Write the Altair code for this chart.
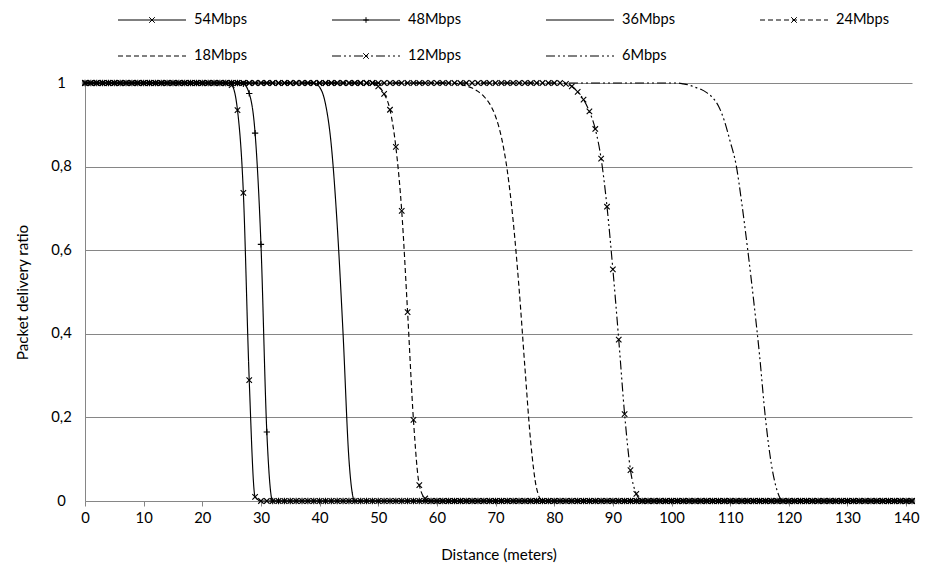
import altair as alt
import pandas as pd

# ---------------- data ----------------
distance = list(range(142))  # metres, one sample per metre
series_names = ["54Mbps", "48Mbps", "36Mbps", "24Mbps", "18Mbps", "12Mbps", "6Mbps"]

pdr_54 = [1.0] * 25 + [0.995, 0.935, 0.737, 0.289, 0.01] + [0.0] * 112
pdr_48 = [1.0] * 27 + [0.998, 0.975, 0.88, 0.614, 0.165] + [0.0] * 110
pdr_36 = [1.0] * 40 + [0.99, 0.95, 0.85, 0.66, 0.40, 0.10] + [0.0] * 96
pdr_24 = [1.0] * 50 + [0.992, 0.974, 0.936, 0.847, 0.694, 0.452, 0.194, 0.038, 0.006] + [0.0] * 83
pdr_18 = [1.0] * 64 + [0.997, 0.993, 0.988, 0.98, 0.968, 0.95, 0.92, 0.87, 0.79,
                       0.67, 0.51, 0.32, 0.14, 0.03] + [0.0] * 64
pdr_12 = [1.0] * 82 + [0.998, 0.992, 0.979, 0.96, 0.932, 0.89, 0.819, 0.704, 0.554,
                       0.386, 0.208, 0.074, 0.017] + [0.0] * 47
pdr_6 = [1.0] * 102 + [0.998, 0.995, 0.99, 0.985, 0.977, 0.965, 0.945, 0.91, 0.86, 0.805,
                       0.71, 0.6, 0.48, 0.35, 0.2, 0.09, 0.025] + [0.0] * 23

x_ticks = list(range(0, 141, 10))
y_ticks = [0, 0.2, 0.4, 0.6, 0.8, 1.0]

all_series = [pdr_54, pdr_48, pdr_36, pdr_24, pdr_18, pdr_12, pdr_6]
rows = []
for name, vals in zip(series_names, all_series):
    for d, v in zip(distance, vals):
        rows.append({"distance": d, "pdr": v, "series": name})
df = pd.DataFrame(rows)

# ---------------- layout & styles ----------------
FONT = "Lato"
GRAY = "#868686"
LABEL_SIZE = 14.8
TITLE_SIZE = 15.2
LEGEND_SIZE = 14.6
PLOT_W, PLOT_H = 827, 418
X_MAX = 141
PX_PER_M = PLOT_W / X_MAX

dash_map = {
    "54Mbps": [1, 0], "48Mbps": [1, 0], "36Mbps": [1, 0],
    "24Mbps": [5, 3], "18Mbps": [5, 3],
    "12Mbps": [9, 3, 2, 3, 2, 3], "6Mbps": [9, 3, 2, 3, 2, 3],
}
marker_map = {"54Mbps": "x", "48Mbps": "+", "24Mbps": "x", "12Mbps": "x"}

X_PATH = "M-1,-1L1,1M-1,1L1,-1"
PLUS_PATH = "M-1,0L1,0M0,-1L0,1"

SYM_LEN = 68.0        # legend sample length (px)
LEG_LEFT = 33.0       # first legend sample, px right of the y axis
LEG_COL_STEP = 214.0  # px between legend columns
LEG_ROW_Y = [63.0, 27.0]  # px above the top of the plot, per legend row
LEG_TEXT_GAP = 8.0


def legend_path(dash, marker):
    half = SYM_LEN / 2
    parts = []
    if dash == [1, 0]:
        parts.append("M-1,0L1,0")
    else:
        pos, i, on = 0.0, 0, True
        while pos < SYM_LEN - 1e-6:
            seg = dash[i % len(dash)]
            end = min(pos + seg, SYM_LEN)
            if on:
                parts.append(f"M{pos / half - 1:.4f},0L{end / half - 1:.4f},0")
            pos, i, on = end, i + 1, not on
    m = 2.8 / half
    if marker == "x":
        parts.append(f"M{-m:.4f},{-m:.4f}L{m:.4f},{m:.4f}M{-m:.4f},{m:.4f}L{m:.4f},{-m:.4f}")
    elif marker == "+":
        parts.append(f"M{-m:.4f},0L{m:.4f},0M0,{-m:.4f}L0,{m:.4f}")
    return "".join(parts)


legend_paths = [legend_path(dash_map[s], marker_map.get(s)) for s in series_names]

# legend entries placed in the chart's own units, 4 per row
leg_rows = []
for i, name in enumerate(series_names):
    col, row = i % 4, i // 4
    start_px = LEG_LEFT + col * LEG_COL_STEP
    leg_rows.append({
        "series": name,
        "sym_x": (start_px + SYM_LEN / 2) / PX_PER_M,
        "txt_x": (start_px + SYM_LEN + LEG_TEXT_GAP) / PX_PER_M,
        "leg_y": 1 + LEG_ROW_Y[row] / PLOT_H,
    })
legend_df = pd.DataFrame(leg_rows)

x_enc = alt.X(
    "distance:Q",
    scale=alt.Scale(domain=[0, X_MAX], nice=False, zero=False),
    axis=alt.Axis(
        values=x_ticks, title="Distance (meters)", grid=False,
        domainColor=GRAY, tickColor=GRAY, tickSize=5, labelPadding=4,
        labelFlush=False, labelFont=FONT, labelFontSize=LABEL_SIZE, labelColor="black",
        titleFont=FONT, titleFontSize=TITLE_SIZE, titleFontWeight="normal", titleColor="black",
        titleX=PLOT_W / 2, titleY=53, titleBaseline="middle", titleAlign="center",
    ),
)
y_enc = alt.Y(
    "pdr:Q",
    scale=alt.Scale(domain=[0, 1], nice=False),
    axis=alt.Axis(
        values=y_ticks, title="Packet delivery ratio", grid=True, gridColor=GRAY,
        domainColor=GRAY, ticks=False, tickSize=0, labelPadding=24, labelAlign="center",
        labelFlush=False, labelFont=FONT, labelFontSize=LABEL_SIZE, labelColor="black",
        labelExpr="datum.value == 0 ? '0' : datum.value == 1 ? '1' : replace(format(datum.value, '.1f'), '.', ',')",
        titleFont=FONT, titleFontSize=TITLE_SIZE, titleFontWeight="normal", titleColor="black",
        titleX=-63, titleY=PLOT_H / 2, titleBaseline="middle", titleAlign="center",
    ),
)

base = alt.Chart(df)

lines = base.mark_line(interpolate="monotone", strokeWidth=1.15, color="black").encode(
    x=x_enc, y=y_enc,
    detail="series:N",
    strokeDash=alt.StrokeDash(
        "series:N",
        scale=alt.Scale(domain=series_names, range=[dash_map[s] for s in series_names]),
        legend=None,
    ),
)

x_markers = base.transform_filter(
    alt.FieldOneOfPredicate(field="series", oneOf=["54Mbps", "24Mbps", "12Mbps"])
).mark_point(shape=X_PATH, size=30, filled=False, strokeWidth=1.1, color="black", opacity=1).encode(
    x="distance:Q", y="pdr:Q"
)

plus_markers = base.transform_filter(
    alt.FieldEqualPredicate(field="series", equal="48Mbps")
).mark_point(shape=PLUS_PATH, size=40, filled=False, strokeWidth=1.1, color="black", opacity=1).encode(
    x="distance:Q", y="pdr:Q"
)

leg_base = alt.Chart(legend_df)
legend_symbols = leg_base.mark_point(
    size=SYM_LEN ** 2, filled=False, strokeWidth=1, color="black", opacity=1
).encode(
    x=alt.X("sym_x:Q"),
    y=alt.Y("leg_y:Q"),
    shape=alt.Shape("series:N", scale=alt.Scale(domain=series_names, range=legend_paths), legend=None),
)
legend_labels = leg_base.mark_text(
    align="left", baseline="middle", font=FONT, fontSize=LEGEND_SIZE, color="black"
).encode(
    x=alt.X("txt_x:Q"),
    y=alt.Y("leg_y:Q"),
    text="series:N",
)

chart = alt.layer(lines, x_markers, plus_markers, legend_symbols, legend_labels).properties(
    width=PLOT_W, height=PLOT_H,
    autosize=alt.AutoSizeParams(type="none"),
    padding={"left": 77, "top": 75, "right": 8, "bottom": 68},
    background="white",
).configure_view(stroke=None)

chart.save("out.html", embed_options={"renderer": "svg", "actions": False})
